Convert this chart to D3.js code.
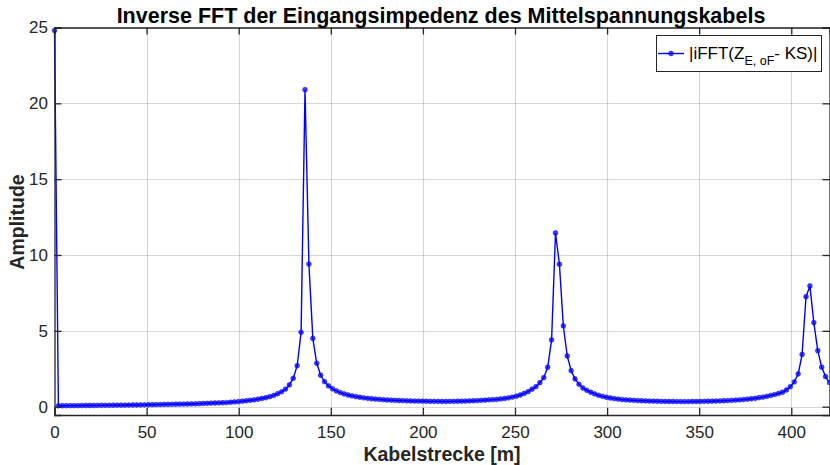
<!DOCTYPE html>
<html>
<head>
<meta charset="utf-8">
<script src="https://cdn.jsdelivr.net/npm/d3@7/dist/d3.min.js"></script>
<style>
  html, body { margin: 0; padding: 0; background: #fff; }
  svg { display: block; font-family: "Liberation Sans", Arial, sans-serif; }
</style>
</head>
<body>
<svg id="chart" width="830" height="465"></svg>
<script>
// Sampling interval along the cable (m) and the |iFFT| amplitude per sample
const stepMeters = 2.125;
const amplitude = [
  24.8, 0.055, 0.06, 0.062, 0.065, 0.068, 0.07, 0.073, 0.075, 0.078,
  0.08, 0.083, 0.085, 0.088, 0.09, 0.092, 0.095, 0.098, 0.1, 0.105,
  0.108, 0.11, 0.115, 0.12, 0.125, 0.13, 0.135, 0.14, 0.145, 0.15,
  0.155, 0.16, 0.165, 0.17, 0.175, 0.18, 0.19, 0.2, 0.21, 0.22,
  0.23, 0.24, 0.25, 0.26, 0.27, 0.29, 0.31, 0.33, 0.36, 0.39,
  0.42, 0.45, 0.49, 0.54, 0.59, 0.66, 0.74, 0.85, 0.98, 1.15,
  1.43, 1.87, 2.7, 4.9, 20.9, 9.4, 4.5, 2.86, 2.07, 1.65,
  1.37, 1.18, 1.04, 0.93, 0.84, 0.77, 0.71, 0.66, 0.62, 0.58,
  0.55, 0.52, 0.5, 0.48, 0.46, 0.44, 0.43, 0.415, 0.405, 0.395,
  0.385, 0.375, 0.37, 0.365, 0.36, 0.355, 0.35, 0.35, 0.345, 0.345,
  0.345, 0.35, 0.35, 0.355, 0.36, 0.37, 0.38, 0.39, 0.4, 0.415,
  0.43, 0.45, 0.465, 0.48, 0.51, 0.54, 0.58, 0.63, 0.69, 0.77,
  0.87, 0.99, 1.15, 1.32, 1.58, 1.91, 2.6, 4.4, 11.45, 9.39,
  5.32, 3.34, 2.37, 1.83, 1.47, 1.23, 1.08, 0.95, 0.84, 0.75,
  0.68, 0.62, 0.57, 0.53, 0.5, 0.47, 0.45, 0.43, 0.415, 0.4,
  0.39, 0.38, 0.37, 0.36, 0.355, 0.35, 0.345, 0.34, 0.34, 0.335,
  0.335, 0.335, 0.335, 0.34, 0.34, 0.345, 0.35, 0.355, 0.36, 0.37,
  0.38, 0.39, 0.4, 0.415, 0.43, 0.45, 0.47, 0.49, 0.52, 0.55,
  0.59, 0.63, 0.68, 0.74, 0.8, 0.87, 0.95, 1.1, 1.32, 1.63,
  2.16, 3.44, 7.25, 7.96, 5.54, 3.69, 2.6, 1.98, 1.58
];
const xTicks = [0, 50, 100, 150, 200, 250, 300, 350, 400];
const yTicks = [0, 5, 10, 15, 20, 25];
const xDomain = [0, 420.75];
const yDomain = [-0.55, 25];

const titleText = "Inverse FFT der Eingangsimpedenz des Mittelspannungskabels";
const xLabelText = "Kabelstrecke [m]";
const yLabelText = "Amplitude";

const points = amplitude.map((v, i) => ({ d: i * stepMeters, v }));

const svg = d3.select("#chart");
const plotLeft = 54.5, plotRight = 829.5, plotTop = 27.5, plotBottom = 415;
const axisColor = "#262626";

const x = d3.scaleLinear().domain(xDomain).range([plotLeft, plotRight]);
const y = d3.scaleLinear().domain(yDomain).range([plotBottom, plotTop]);

// Grid
const grid = svg.append("g").attr("stroke", "#000").attr("stroke-opacity", 0.16).attr("stroke-width", 1.1);
grid.selectAll("line.gx").data(xTicks.slice(1)).join("line")
  .attr("x1", d => Math.round(x(d)) + 0.5).attr("x2", d => Math.round(x(d)) + 0.5)
  .attr("y1", plotTop).attr("y2", plotBottom);
grid.selectAll("line.gy").data(yTicks).join("line")
  .attr("y1", d => Math.round(y(d)) + 0.5).attr("y2", d => Math.round(y(d)) + 0.5)
  .attr("x1", plotLeft).attr("x2", plotRight);

// Axes (inward ticks, box on all sides)
const tickLen = 7;
const xAxisB = d3.axisBottom(x).tickValues(xTicks).tickSize(-tickLen).tickPadding(10.5).tickFormat(d3.format("d"));
const xAxisT = d3.axisTop(x).tickValues(xTicks).tickSize(-tickLen).tickFormat("");
const yAxisL = d3.axisLeft(y).tickValues(yTicks).tickSize(-tickLen).tickPadding(6.5).tickFormat(d3.format("d"));
const yAxisR = d3.axisRight(y).tickValues(yTicks).tickSize(-tickLen).tickFormat("");

function styleAxis(g) {
  g.select(".domain").attr("stroke", axisColor).attr("stroke-width", 1.3);
  g.selectAll(".tick line").attr("stroke", axisColor).attr("stroke-width", 1.3);
  g.selectAll(".tick text").attr("fill", axisColor).attr("font-size", 17).attr("font-family", "Liberation Sans, Arial, sans-serif");
}

// Data line and markers, clipped to the plot box (markers may overhang the left edge slightly)
svg.append("clipPath").attr("id", "plotClip").append("rect")
  .attr("x", plotLeft - 3).attr("y", plotTop - 4).attr("width", plotRight - plotLeft + 3).attr("height", plotBottom - plotTop + 4);

const plot = svg.append("g").attr("clip-path", "url(#plotClip)");
plot.append("path").datum(points)
  .attr("fill", "none").attr("stroke", "#0000ff").attr("stroke-width", 1.4)
  .attr("d", d3.line().x(p => x(p.d)).y(p => y(p.v)));
plot.selectAll("circle").data(points).join("circle")
  .attr("cx", p => x(p.d)).attr("cy", p => y(p.v)).attr("r", 2.4)
  .attr("fill", "#0000ff").attr("fill-opacity", 0.75).attr("stroke", "#0000ff").attr("stroke-width", 0.5);

svg.append("g").attr("transform", `translate(0,${plotBottom})`).call(xAxisB).call(styleAxis);
svg.append("g").attr("transform", `translate(0,${plotTop})`).call(xAxisT).call(styleAxis);
svg.append("g").attr("transform", `translate(${plotLeft},0)`).call(yAxisL).call(styleAxis);
svg.append("g").attr("transform", `translate(${plotRight},0)`).call(yAxisR).call(styleAxis);

// Title and axis labels
svg.append("text").attr("x", 441).attr("y", 22.5).attr("text-anchor", "middle")
  .attr("font-weight", "bold").attr("font-size", 21.5).attr("fill", "#000").text(titleText);
svg.append("text").attr("x", 442).attr("y", 461).attr("text-anchor", "middle")
  .attr("font-weight", "bold").attr("font-size", 19.5).attr("fill", axisColor).text(xLabelText);
svg.append("text").attr("transform", "translate(23.5,222) rotate(-90)").attr("text-anchor", "middle")
  .attr("font-weight", "bold").attr("font-size", 19.5).attr("fill", axisColor).text(yLabelText);

// Legend
const legend = svg.append("g");
legend.append("rect").attr("x", 656.5).attr("y", 35.5).attr("width", 165).attr("height", 36)
  .attr("fill", "#fff").attr("stroke", axisColor).attr("stroke-width", 1);
legend.append("line").attr("x1", 658).attr("x2", 684).attr("y1", 53.5).attr("y2", 53.5)
  .attr("stroke", "#0000ff").attr("stroke-width", 1.4);
legend.append("circle").attr("cx", 671).attr("cy", 53.5).attr("r", 2.4)
  .attr("fill", "#0000ff").attr("fill-opacity", 0.75).attr("stroke", "#0000ff").attr("stroke-width", 0.5);
const lt = legend.append("text").attr("x", 689).attr("y", 59).attr("font-size", 17).attr("fill", "#000");
lt.append("tspan").text("|iFFT(Z");
lt.append("tspan").attr("font-size", 12.5).attr("dy", 6).text("E, oF");
lt.append("tspan").attr("dy", -6).text("- KS)|");
</script>
</body>
</html>
